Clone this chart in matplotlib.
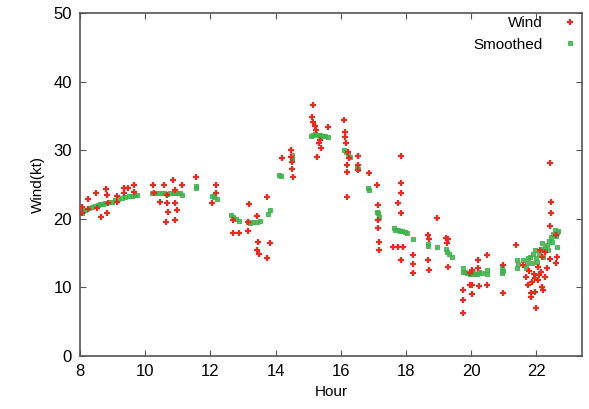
import matplotlib
matplotlib.use("Agg")
import matplotlib.pyplot as plt
import numpy as np

plt.rcParams['font.family'] = ['Liberation Sans', 'DejaVu Sans']

# Wind observations (hour, kt)
wind_hour = [8.06, 8.06, 8.25, 8.25, 8.49, 8.52, 8.64, 8.80, 8.83, 8.83, 8.86,
             9.13, 9.13, 9.35, 9.35, 9.47, 9.66, 9.66,
             10.24, 10.27, 10.46, 10.58, 10.67, 10.67, 10.70, 10.64,
             10.86, 10.92, 10.92, 10.92, 10.98, 11.13,
             11.56, 12.05, 12.18, 12.18,
             12.70, 12.70, 12.88, 13.16, 13.16, 13.19, 13.43, 13.43, 13.47, 13.50,
             13.74, 13.74, 13.83,
             14.20, 14.48, 14.48, 14.51, 14.51, 14.54,
             15.12, 15.15, 15.15, 15.22, 15.25, 15.28, 15.32, 15.37, 15.40, 15.61,
             16.10, 16.13, 16.13, 16.17, 16.20, 16.20, 16.20, 16.23, 16.26,
             16.54, 16.54, 16.54, 16.87, 17.12,
             17.15, 17.15, 17.18, 17.18, 17.15,
             17.61, 17.76, 17.76, 17.86, 17.86, 17.86, 17.86, 17.86, 17.92,
             18.22, 18.22, 18.22,
             18.68, 18.68, 18.71, 18.71, 18.96,
             19.24, 19.30, 19.27, 19.30,
             19.76, 19.76, 19.76, 19.97, 19.97,
             20.22, 20.22, 20.03, 20.03, 20.25, 20.50, 20.50, 20.03,
             20.99, 20.99, 21.39, 21.60, 21.67, 21.73, 21.79, 21.88, 21.97,
             21.85, 21.85, 21.97, 22.18, 22.21, 22.00, 22.04, 22.18, 22.27,
             22.12, 22.33, 22.27, 21.94, 22.06, 22.09, 22.15,
             22.43, 22.46, 22.46, 22.43, 22.61, 22.64, 22.61, 22.43]
wind_kt = [21.7, 20.8, 22.9, 21.4, 23.8, 21.6, 20.3, 24.3, 23.5, 20.8, 22.3,
           23.3, 22.4, 24.5, 23.8, 24.5, 24.9, 23.9,
           24.9, 23.8, 22.4, 24.9, 23.5, 22.3, 21.0, 19.5,
           25.7, 24.2, 22.3, 19.8, 21.3, 24.9,
           26.1, 22.3, 24.9, 23.8,
           19.8, 17.9, 17.9, 19.5, 18.2, 22.2, 20.4, 15.5, 16.6, 14.9,
           23.2, 14.3, 16.5,
           28.9, 30.0, 29.0, 28.3, 27.3, 26.1,
           34.8, 36.6, 34.1, 33.5, 32.9, 29.0, 31.0, 31.5, 30.3, 33.4,
           34.4, 32.7, 31.9, 31.0, 27.8, 26.8, 23.2, 29.7, 28.9,
           29.2, 27.8, 27.1, 26.7, 24.9,
           19.8, 18.7, 16.6, 15.5, 22.0,
           15.9, 22.3, 15.9, 29.2, 25.2, 23.8, 20.8, 14.0, 15.9,
           14.7, 13.4, 12.1,
           17.6, 14.0, 17.1, 12.5, 20.1,
           17.2, 17.1, 16.5, 13.0,
           9.6, 8.2, 6.3, 12.1, 10.3,
           14.0, 12.8, 12.5, 9.0, 10.2, 14.7, 10.3, 10.3,
           13.3, 9.2, 16.2, 13.3, 11.5, 10.3, 12.4, 10.8, 11.4,
           9.2, 8.6, 9.3, 10.1, 9.6, 7.0, 11.1, 14.4, 15.2,
           15.5, 12.8, 11.5, 12.0, 13.0, 11.8, 12.2,
           28.1, 22.4, 20.8, 19.0, 17.6, 14.4, 13.6, 14.1]

# Smoothed wind (hour, kt)
smooth_hour = [8.00, 8.05, 8.10, 8.15, 8.26, 8.37, 8.46, 8.55, 8.62, 8.70, 8.77,
               8.88, 8.98, 9.08, 9.17, 9.28, 9.38, 9.49, 9.60, 9.68, 9.75,
               10.20, 10.30, 10.40, 10.50, 10.58, 10.66, 10.76, 10.84, 10.92,
               11.00, 11.07, 11.13, 11.56, 11.56, 12.05, 12.12, 12.20,
               12.64, 12.70, 12.78, 12.88, 13.16, 13.20, 13.30, 13.43, 13.53,
               13.77, 13.83, 14.10, 14.17, 14.51, 14.51, 14.51,
               15.10, 15.15, 15.22, 15.30, 15.37, 15.45, 15.52, 15.61,
               16.10, 16.17, 16.23, 16.29, 16.50, 16.54, 16.84, 16.87,
               17.12, 17.15, 17.18, 17.62, 17.67, 17.76, 17.83, 17.89, 17.96,
               18.04, 18.22, 18.68, 18.68, 18.96,
               19.22, 19.27, 19.33, 19.42, 19.76, 19.76, 19.82, 19.88, 19.95,
               20.01, 20.07, 20.13, 20.18, 20.25, 20.32, 20.50, 20.50,
               20.96, 20.96, 20.99, 21.42, 21.42, 21.45, 21.60, 21.67, 21.70,
               21.76, 21.82, 21.88, 21.91, 21.97, 22.00, 22.03, 22.09, 22.15,
               22.18, 22.21, 22.27, 22.33, 22.36, 22.40, 22.46, 22.49, 22.52,
               22.58, 22.61, 22.64, 22.64, 22.67]
smooth_kt = [20.8, 20.9, 21.1, 21.3, 21.5, 21.7, 21.8, 22.0, 22.1, 22.2, 22.3,
             22.4, 22.5, 22.7, 22.9, 23.0, 23.2, 23.3, 23.3, 23.4, 23.5,
             23.8, 23.8, 23.8, 23.8, 23.7, 23.6, 23.8, 23.8, 23.7,
             23.8, 23.7, 23.5, 24.5, 24.8, 23.3, 23.1, 22.9,
             20.5, 20.3, 20.0, 19.7, 19.5, 19.4, 19.5, 19.5, 19.7,
             20.7, 21.3, 26.4, 26.2, 29.3, 28.9, 28.6,
             32.0, 32.2, 32.3, 32.2, 32.2, 32.1, 32.1, 31.9,
             30.0, 29.7, 29.4, 29.0, 27.6, 27.3, 24.5, 24.2,
             21.0, 20.8, 20.3, 18.6, 18.4, 18.3, 18.2, 18.2, 18.0,
             17.9, 17.1, 16.3, 16.0, 15.9,
             15.6, 15.2, 14.8, 14.4, 12.8, 12.3, 12.2, 12.1, 12.0,
             12.1, 12.1, 11.9, 12.0, 12.2, 12.1, 12.5, 12.0,
             12.8, 12.1, 12.4, 14.0, 12.8, 13.4, 14.0, 12.8, 13.5,
             14.2, 14.4, 13.6, 14.8, 15.5, 14.2, 13.7, 15.0, 15.6,
             16.5, 14.4, 15.8, 16.2, 15.5, 16.8, 17.3, 16.6, 17.8,
             18.4, 17.5, 17.9, 15.9, 18.2]

fig = plt.figure(figsize=(5.89, 4.09), dpi=100)
ax = fig.add_axes([0.136, 0.130, 0.852, 0.838])

ax.plot(wind_hour, wind_kt, linestyle='none', marker='+', color='#f0281e',
        markersize=5, markeredgewidth=1.6, label='Wind', zorder=3)
ax.plot(smooth_hour, smooth_kt, linestyle='none', marker='s', color='#3cb44b',
        markersize=3.5, markeredgewidth=0.8, alpha=0.85, label='Smoothed', zorder=2)

ax.set_xlim(8, 23.4)
ax.set_ylim(0, 50)
ax.set_xticks(np.arange(8, 23, 2))
ax.set_yticks(np.arange(0, 51, 10))
ax.tick_params(direction='in', top=True, right=True, length=4, labelsize=12,
               color='#555555', pad=6)
for s in ax.spines.values():
    s.set_color('#555555')
    s.set_linewidth(1.2)

ax.set_xlabel('Hour', fontsize=11, labelpad=4)
ax.set_ylabel('Wind(kt)', fontsize=11, labelpad=6)

ax.legend(loc='upper right', frameon=False, markerfirst=False, fontsize=11,
          handlelength=1.2, handletextpad=1.2, borderaxespad=0.0, labelspacing=0.5,
          borderpad=0.2)

fig.savefig('out.png', dpi=100)
